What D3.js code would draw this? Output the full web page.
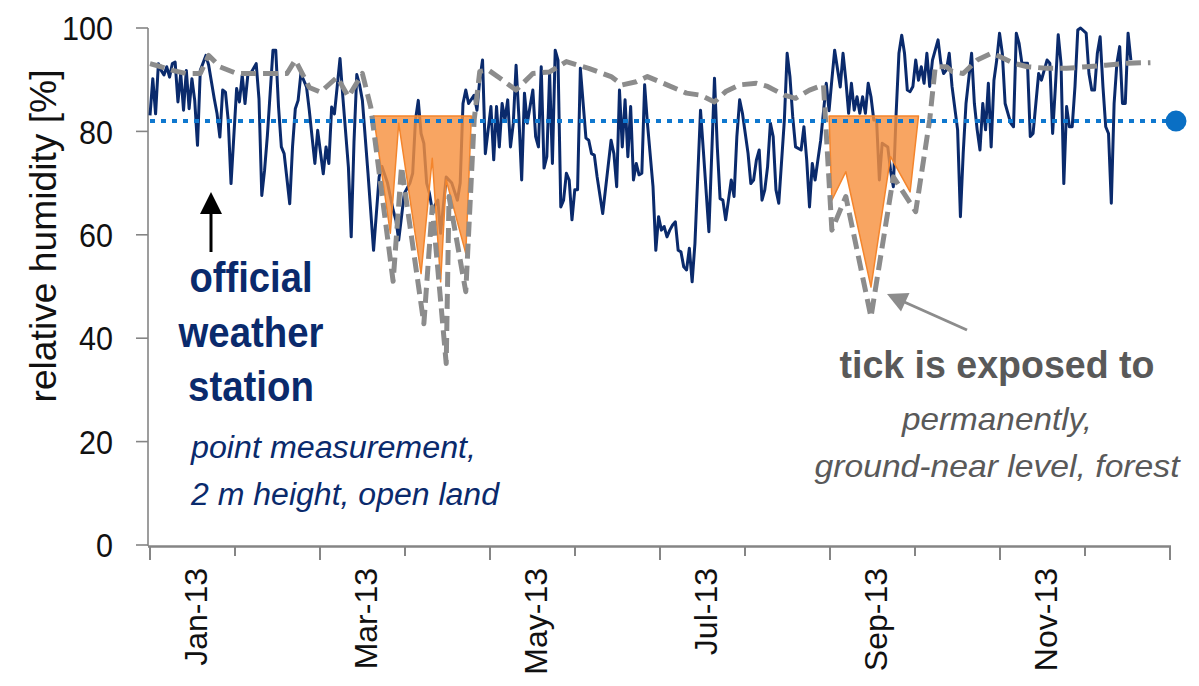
<!DOCTYPE html>
<html>
<head>
<meta charset="utf-8">
<script src="https://cdn.jsdelivr.net/npm/d3@7"></script>
<style>
  html, body { margin: 0; padding: 0; background: #fff; }
  svg { display: block; font-family: "Liberation Sans", Arial, sans-serif; }
</style>
</head>
<body>
<svg id="chart" width="1199" height="686"></svg>
<script>
// ---- data -------------------------------------------------------------
const months = ["Jan-13","Feb-13","Mar-13","Apr-13","May-13","Jun-13",
                "Jul-13","Aug-13","Sep-13","Oct-13","Nov-13","Dec-13"];
const yTicks = [0, 20, 40, 60, 80, 100];

// official weather station, daily relative humidity (day of year 2013)
const stationDays = [0,1,2,3,4,5,6,7,8,9,10,11,12,13,14,15,16,17,18,20,21,23,24,25,26,27,28,29,31,32,33,34,35,36,38,39,40,41,42,44,45,46,47,48,50,51,52,53,54,56,57,58,59,60,62,63,64,65,66,68,69,71,72,73,74,75,76,78,80,82,83,85,87,88,89,91,93,94,95,96,97,98,99,100,101,103,104,106,107,108,110,111,112,113,114,116,117,118,
119,120,122,123,124,125,126,127,128,129,130,131,132,133,134,135,136,137,138,139,140,141,142,143,144,145,146,147,148,149,150,151,152,153,154,156,157,158,159,160,162,165,166,167,168,169,170,171,172,173,174,175,176,177,178,180,181,182,183,184,185,186,187,188,189,190,191,192,193,194,195,197,198,200,202,203,204,205,206,207,208,209,210,211,212,214,215,216,217,218,219,220,221,222,223,224,225,227,228,229,230,231,233,234,235,236,237,238,239,240,242,243,244,245,247,248,249,250,251,252,253,254,255,256,257,258,259,260,261,262,264,265,266,267,268,269,270,271,272,273,274,275,276,277,278,279,280,282,283,284,285,286,287,289,290,291,292,294,295,296,297,298,299,300,301,302,303,304,305,306,308,309,310,311,312,314,315,316,317,318,319,321,322,323,324,325,326,327,328,329,330,331,332,333,335,336,337,338,339,340,341,342,343,344,345,346,347,348,349,350,351];
const stationRH = [83.1,90.2,83.4,93.1,91.8,90.9,92.5,90.5,93.1,93.4,85.7,91.2,84.1,91.8,84.4,90.2,86,77.3,91.8,94.7,92.8,86.3,83.4,78.9,88,87.6,82.1,69.9,88.3,85.7,90.9,85.4,90.9,91.2,93.1,86.3,67.6,72.5,79.2,95.7,95.7,84.7,77,75.7,66,77,84.4,86,91.2,88.6,84.1,78.9,73.8,80.2,71.8,77,73.8,84.7,83.4,94.1,86.7,73.1,59.6,78,91,89,86,72,57,71.2,73.2,70,64.8,62.8,59,68,70,71.9,82.2,86,79.6,77.7,70,68,64.8,66.7,60.3,71.2,70.6,70,66.7,70,85.4,88,85.4,87,84.1,90,
93.8,75.7,84.8,74.5,84.8,77,85.4,82.2,86.1,77,81.6,92.8,82.8,70.6,87.4,81.6,84.8,88,79,77,92.5,72.9,75.1,91.2,73.8,95.7,93.8,65.4,66.7,71.9,70.6,62.9,68.7,68.7,92.2,78.7,78.3,75.7,75.4,71.2,64.1,78.3,75.7,69.3,88,77,86.1,75.1,84.8,70.6,73.8,71.6,71.9,89,81.6,69.3,57,63.5,60.9,61.6,59.6,60.9,61.9,62.5,57,56.7,53.8,53.2,57.4,50.9,58.3,84.1,76.4,60.6,90.3,77,67,66.7,62.9,66.7,70.6,67.4,79,86.1,83.5,75.8,69.9,70.6,74.5,76.4,66.7,68.7,73.2,81.6,79,68.7,66.1,82.2,95.1,90.6,82.8,77,76.4,80.9,74.5,65.4,73.8,70.6,74.5,78.3,89.3,84,90,95.7,88.6,95.1,89.9,83.5,89.3,84.1,86.7,83.5,86.7,83.5,89.3,86.7,82.2,82.2,70.6,77.7,77,72.5,69.3,83.5,95.1,98.6,95.1,88,87.7,88.7,93.8,89.9,92.5,89.3,95.1,88.7,93.8,97.7,93.2,91.2,91.9,95.1,88.7,80.3,63.5,75.8,85.4,95.1,85.4,80.3,76.4,85.4,80.3,89.3,77,89.9,93.8,99,95.1,85.4,81.6,80.9,99,97,93.2,93.2,79,79.6,85.4,91.2,89.9,93.8,93.2,79.6,88.7,98.7,93.2,69.9,84.8,80.9,80.9,88.7,99.6,100,99,91.2,88,88,95.1,98.3,88.7,80.9,79.6,66.1,85.4,93.2,96.4,85.4,85.4,99,93.8];

// ground-near level in the forest
const forestDays = [0,4,8,13,18,21,25,31,36,44,49,52,57,61,67,71,76,79,87,90,98,101,106,107,113,116,118,121,126,131,137,143,149,157,165,169,174,178,185,192,197,202,206,211,217,221,227,231,236,241,244,249,258,266,274,279,281,285,287,291,296,301,304,309,314,321,328,335,342,350,358];
const forestRH = [93.1,92.5,91.8,91.2,91.2,94.7,92.5,91.2,91.2,91.2,91.2,93.8,88.5,87.6,90.5,86.7,91.2,84.7,51,73.2,42.8,65.4,35.1,67.4,49,82.2,91.6,91.9,90,88,91.2,91.5,93.5,92.2,90.6,89,89.6,90.6,89,87.4,87,85.7,87.7,89,89.3,88.7,87,86.4,88,89,60.9,67.4,44.1,71.2,64.5,82.2,92.5,92.5,91.6,91.2,93.8,95.1,94.5,93.2,92.5,92.2,92.2,92.5,92.8,93.2,93.3];

// dry-exposure periods (lower edge of the shaded band)
const springDays = [80,86,89,97,101,104,106,113,115];
const springRH   = [83,60.3,81.6,52.5,74.8,50.9,70.6,56.4,83];
const autumnDays = [243,244,249,258,265,272,275];
const autumnRH   = [83,66.7,72.2,49.9,75.1,68.3,83];
const exposureTop = 83;

const thresholdRH = 82;

// ---- scales -----------------------------------------------------------
const svg = d3.select("#chart");
const x = d3.scaleLinear().domain([0, 365]).range([150, 1170]);
const monthBand = d3.scaleBand().domain(months).range([150, 1170]).padding(0);
const y = d3.scaleLinear().domain([0, 100]).range([545, 28]);

const zip = (days, vals) => days.map((d, i) => ({ day: d, rh: vals[i] }));

const axisColor = "#858585";
const navy = "#0a2a6c";

// ---- axes -------------------------------------------------------------
const gy = svg.append("g");
gy.append("line").attr("x1", 148).attr("x2", 148)
  .attr("y1", y(100)).attr("y2", y(0) + 1)
  .attr("stroke", axisColor).attr("stroke-width", 1.6);
gy.selectAll("line.tick").data(yTicks).join("line")
  .attr("class", "tick")
  .attr("x1", 136).attr("x2", 148)
  .attr("y1", d => y(d)).attr("y2", d => y(d))
  .attr("stroke", axisColor).attr("stroke-width", 1.6);
gy.selectAll("text").data(yTicks).join("text")
  .attr("x", 113).attr("y", d => y(d)).attr("dy", "0.36em")
  .attr("text-anchor", "end")
  .attr("font-size", 34)
  .attr("textLength", d => String(d).length * 17)
  .attr("lengthAdjust", "spacingAndGlyphs")
  .attr("fill", "#111")
  .text(d => d);

svg.append("text")
  .attr("transform", "translate(43,236) rotate(-90)")
  .attr("text-anchor", "middle").attr("dy", "0.35em")
  .attr("font-size", 37)
  .attr("textLength", 333).attr("lengthAdjust", "spacingAndGlyphs")
  .attr("fill", "#111")
  .text("relative humidity [%]");

const gx = svg.append("g");
gx.append("line").attr("x1", 148).attr("x2", 1171)
  .attr("y1", 546.5).attr("y2", 546.5)
  .attr("stroke", axisColor).attr("stroke-width", 2.6);
const boundaries = months.map(m => monthBand(m)).concat([monthBand.range()[1]]);
gx.selectAll("line.tick").data(boundaries).join("line")
  .attr("class", "tick")
  .attr("x1", d => d).attr("x2", d => d)
  .attr("y1", 546).attr("y2", (d, i) => i % 2 === 0 ? 560 : 556)
  .attr("stroke", axisColor).attr("stroke-width", 2);
gx.selectAll("text").data(months.filter((m, i) => i % 2 === 0)).join("text")
  .attr("transform", d => `translate(${monthBand(d) + monthBand.bandwidth() / 2 + 3},568) rotate(-90)`)
  .attr("text-anchor", "end").attr("dy", "0.36em")
  .attr("font-size", 32)
  .attr("fill", "#111")
  .text(d => d);

// ---- series -----------------------------------------------------------
const line = d3.line().x(d => x(d.day)).y(d => y(d.rh));

svg.append("path")
  .datum(zip(stationDays, stationRH))
  .attr("d", line)
  .attr("fill", "none").attr("stroke", navy)
  .attr("stroke-width", 3).attr("stroke-linejoin", "round");

const area = d3.area().x(d => x(d.day)).y0(y(exposureTop)).y1(d => y(d.rh));
[zip(springDays, springRH), zip(autumnDays, autumnRH)].forEach(seg => {
  svg.append("path").datum(seg).attr("d", area)
    .attr("fill", "#f7913f").attr("fill-opacity", 0.82)
    .attr("stroke", "#f4852c").attr("stroke-width", 1.5)
    .attr("stroke-linejoin", "round");
});

svg.append("path")
  .datum(zip(forestDays, forestRH))
  .attr("d", line)
  .attr("fill", "none").attr("stroke", "#8c8c8c")
  .attr("stroke-width", 5).attr("stroke-dasharray", "15,7")
  .attr("stroke-linejoin", "round");

// threshold line with marker
svg.append("line")
  .attr("x1", 150).attr("x2", 1176)
  .attr("y1", y(thresholdRH)).attr("y2", y(thresholdRH))
  .attr("stroke", "#0f78cf").attr("stroke-width", 4)
  .attr("stroke-dasharray", "5,6");
svg.append("circle")
  .attr("cx", 1176).attr("cy", y(thresholdRH)).attr("r", 10.5)
  .attr("fill", "#0a6fc4");

// ---- annotations ------------------------------------------------------
svg.append("line").attr("x1", 211).attr("x2", 211).attr("y1", 252).attr("y2", 210)
  .attr("stroke", "#000").attr("stroke-width", 3);
svg.append("path").attr("d", "M211,192 L200,214 L222,214 Z").attr("fill", "#000");

const station = [
  { t: "official", y: 292, w: 123 },
  { t: "weather", y: 347, w: 145 },
  { t: "station", y: 401, w: 126 }
];
svg.selectAll("text.station").data(station).join("text")
  .attr("class", "station")
  .attr("x", 251).attr("y", d => d.y)
  .attr("text-anchor", "middle")
  .attr("font-size", 42).attr("font-weight", "bold")
  .attr("textLength", d => d.w).attr("lengthAdjust", "spacingAndGlyphs")
  .attr("fill", navy)
  .text(d => d.t);

const stationNote = [
  { t: "point measurement,", y: 458, w: 285 },
  { t: "2 m height, open land", y: 505, w: 308 }
];
svg.selectAll("text.snote").data(stationNote).join("text")
  .attr("class", "snote")
  .attr("x", 191).attr("y", d => d.y)
  .attr("font-size", 31).attr("font-style", "italic")
  .attr("textLength", d => d.w).attr("lengthAdjust", "spacingAndGlyphs")
  .attr("fill", navy)
  .text(d => d.t);

svg.append("line").attr("x1", 967).attr("y1", 330).attr("x2", 902).attr("y2", 301)
  .attr("stroke", "#8c8c8c").attr("stroke-width", 3);
svg.append("path").attr("d", "M887,294 L901,311.5 L909.5,293 Z").attr("fill", "#8c8c8c");

svg.append("text")
  .attr("x", 997).attr("y", 378).attr("text-anchor", "middle")
  .attr("font-size", 39).attr("font-weight", "bold")
  .attr("textLength", 315).attr("lengthAdjust", "spacingAndGlyphs")
  .attr("fill", "#595959")
  .text("tick is exposed to");

const forestNote = [
  { t: "permanently,", y: 430, w: 190 },
  { t: "ground-near level, forest", y: 477, w: 365 }
];
svg.selectAll("text.fnote").data(forestNote).join("text")
  .attr("class", "fnote")
  .attr("x", 997).attr("y", d => d.y).attr("text-anchor", "middle")
  .attr("font-size", 32).attr("font-style", "italic")
  .attr("textLength", d => d.w).attr("lengthAdjust", "spacingAndGlyphs")
  .attr("fill", "#595959")
  .text(d => d.t);
</script>
</body>
</html>
